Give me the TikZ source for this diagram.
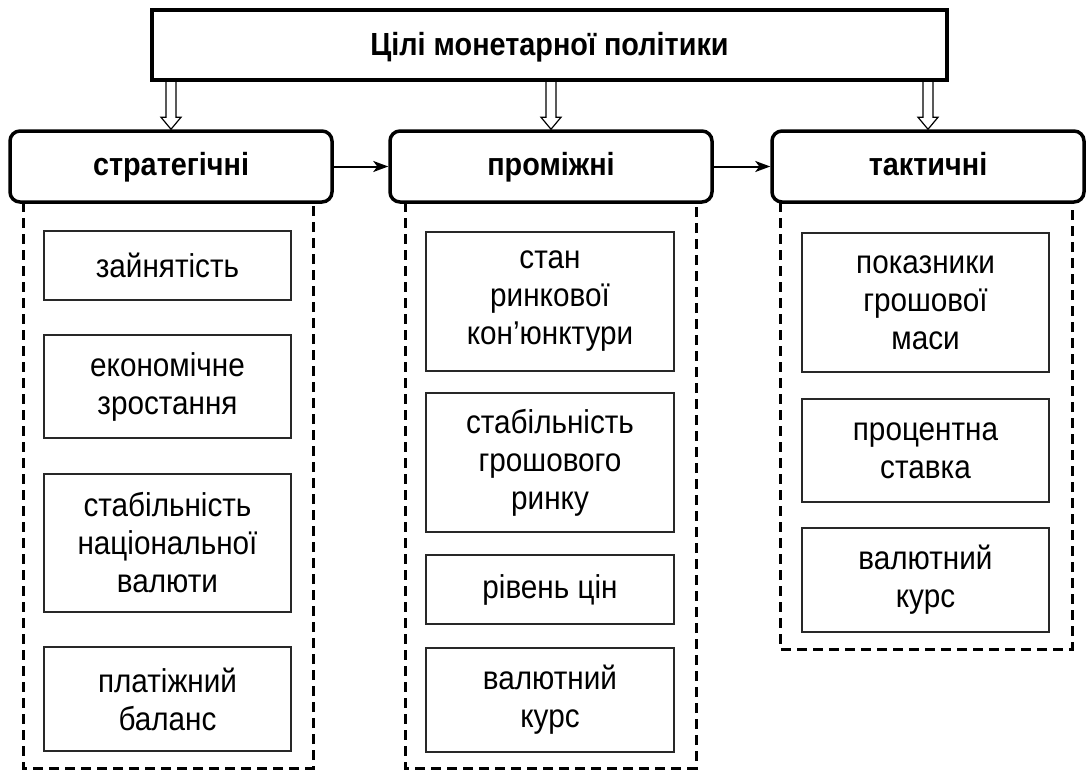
\documentclass[tikz,border=0pt]{standalone}
\usepackage{fontspec}
\setmainfont{Liberation Sans}[FakeStretch=0.9]
\usetikzlibrary{positioning, arrows.meta, calc}
\definecolor{boxline}{RGB}{40, 40, 40}
\newcommand{\hollowdown}[1]{\draw[hollowarrow] ($(title.south -| #1.north)+(-5,0)$) -- ($(#1.north)+(-5,-12)$) -- ++(-5,0) -- (#1.north) -- ++(10,-12) -- ++(-5,0) -- ($(title.south -| #1.north)+(5,0)$);}

\begin{document}
\begin{tikzpicture}[x=1pt, y=-1pt,
    titlebox/.style={draw, line width=4pt, fill=white, minimum width=795pt, minimum height=70pt, text height=24pt, text depth=4pt, font=\fontsize{32}{38}\selectfont\bfseries},
    catbox/.style={draw, line width=3.5pt, rounded corners=10pt, fill=white, minimum height=71pt, text height=23pt, text depth=6pt, font=\fontsize{32}{38}\selectfont\bfseries},
    itembox/.style={draw=boxline, line width=1.2pt, minimum width=247pt, align=center, inner sep=0pt, font=\fontsize{33}{38}\selectfont},
    dashbox/.style={line width=3pt, dash pattern=on 10pt off 6pt},
    flowarrow/.style={line width=2pt, -{Stealth[length=15pt, width=11pt, inset=4pt]}},
    hollowarrow/.style={line width=1.2pt, line join=miter}]
                \useasboundingbox (0,0) rectangle (1087,771);
                % Dashed frames below the groups
                \draw[dashbox] (23,202) |- (313,768) -- (313,202);
                \draw[dashbox] (405,202) |- (696,768) -- (696,202);
                \draw[dashbox] (780,202) |- (1072,649) -- (1072,202);
                
                % Title
                \node[titlebox] (title) at (549.5,45) {Цілі монетарної політики};
                
                % Groups of goals
                \node[catbox, minimum width=322pt] (strat) at (171,166.5) {стратегічні};
                \node[catbox, minimum width=322pt] (prom) at (551,166.5) {проміжні};
                \node[catbox, minimum width=312pt] (takt) at (928,166.5) {тактичні};
                
                % Arrows
                \hollowdown{strat}
                \hollowdown{prom}
                \hollowdown{takt}
                \draw[flowarrow] (strat) -- (prom);
                \draw[flowarrow] (prom) -- (takt);
                
                % Strategic goals
                \node[itembox, minimum height=69pt] (zain) at (167.5,265.5) {зайнятість};
                \node[itembox, minimum height=103pt] (ekon) at (167.5,386.5) {економічне\\зростання};
                \node[itembox, minimum height=138pt] (stabval) at (167.5,543) {стабільність\\національної\\валюти};
                \node[itembox, minimum height=104pt] (platb) at (167.5,699) {платіжний\\баланс};
                
                % Intermediate goals
                \node[itembox, minimum width=248pt, minimum height=139pt] (stan) at (550,301.5) {стан\\ринкової\\кон’юнктури};
                \node[itembox, minimum width=248pt, minimum height=139pt] (stabrin) at (550,462.5) {стабільність\\грошового\\ринку};
                \node[itembox, minimum width=248pt, minimum height=69pt] (riven) at (550,589.5) {рівень цін};
                \node[itembox, minimum width=248pt, minimum height=104pt] (valprom) at (550,700) {валютний\\курс};
                
                % Tactical goals
                \node[itembox, minimum height=139pt] (pokaz) at (925.5,302.5) {показники\\грошової\\маси};
                \node[itembox, minimum height=103pt] (proc) at (925.5,450.5) {процентна\\ставка};
                \node[itembox, minimum height=104pt] (valtakt) at (925.5,580) {валютний\\курс};
            \end{tikzpicture}
\end{document}
